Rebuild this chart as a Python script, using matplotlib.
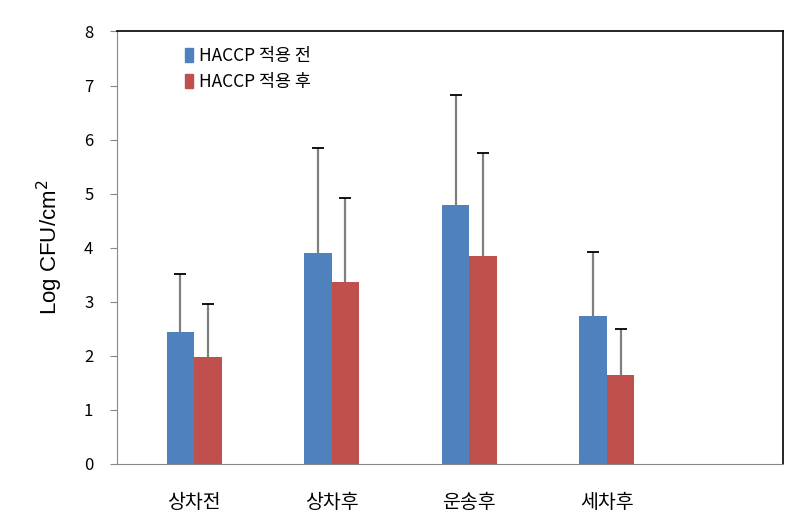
import matplotlib.pyplot as plt
import numpy as np
from matplotlib.patches import Patch

plt.rcParams['font.family'] = ['Noto Sans CJK KR', 'DejaVu Sans']

categories = ['상차전', '상차후', '운송후', '세차후']
before = [2.44, 3.90, 4.79, 2.74]
before_err = [1.07, 1.94, 2.03, 1.18]
after = [1.98, 3.36, 3.84, 1.65]
after_err = [0.98, 1.56, 1.91, 0.85]
legend_labels = ['HACCP 적용 전', 'HACCP 적용 후']

blue = '#4F81BD'
red = '#C0504D'

fig = plt.figure(figsize=(8.04, 5.31), dpi=100)
ax = fig.add_axes([0.1455, 0.1262, 0.8285, 0.8145])

x = np.arange(len(categories))
w = 0.2
for pos, vals, errs, col in [(x - w / 2, before, before_err, blue),
                             (x + w / 2, after, after_err, red)]:
    vals = np.array(vals)
    errs = np.array(errs)
    ax.bar(pos, vals, w, color=col, zorder=2)
    # upper error bars only
    ax.vlines(pos, vals, vals + errs, color='#7f7f7f', linewidth=1.6, zorder=1)
    ax.plot(pos, vals + errs, linestyle='none', marker='_', markersize=9,
            markeredgewidth=1.3, color='black', zorder=3)

ax.set_xlim(-0.56, 4.28)
ax.set_ylim(0, 8)
ax.set_yticks(range(0, 9))
ax.set_xticks(x)
ax.set_xticklabels(categories, fontsize=14)
ax.tick_params(axis='x', length=0, pad=20)
ax.tick_params(axis='y', direction='out', length=5, labelsize=12, pad=12,
               color='#888888')

ax.set_ylabel('Log CFU/cm$^2$', fontsize=16, family='Liberation Sans', labelpad=14)

for s in ['left', 'bottom']:
    ax.spines[s].set_color('#888888')
for s in ['top', 'right']:
    ax.spines[s].set_color('black')
    ax.spines[s].set_linewidth(1.2)

handles = [Patch(color=blue), Patch(color=red)]
ax.legend(handles, legend_labels, loc='upper left', bbox_to_anchor=(0.078, 1.0),
          frameon=False, fontsize=12.5, handlelength=0.5, handleheight=0.8,
          handletextpad=0.35, labelspacing=0.45)

fig.savefig('out.png', dpi=100)
